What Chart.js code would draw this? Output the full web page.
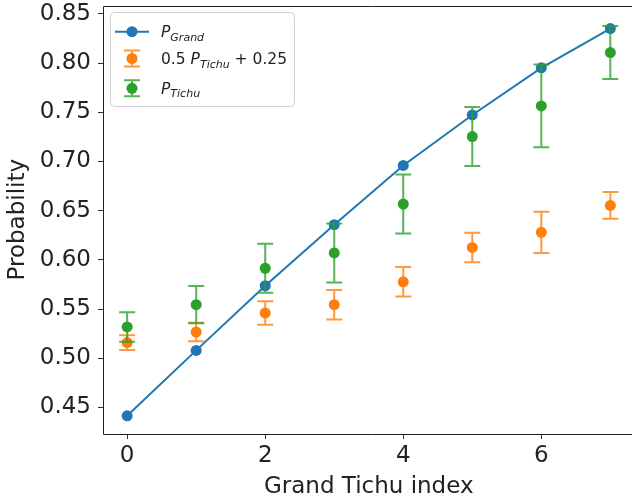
<!DOCTYPE html>
<html>
<head>
<meta charset="utf-8">
<script src="https://cdn.jsdelivr.net/npm/chart.js@4"></script>
<style>
  html, body { margin: 0; padding: 0; background: #fff; overflow: hidden; }
  #wrap { width: 632px; height: 503px; overflow: hidden; }
</style>
</head>
<body>
<div id="wrap"><canvas id="chart" width="640" height="503"></canvas></div>
<script>
const FONT = '"DejaVu Sans", sans-serif';

const gtIndex = [0, 1, 2, 3, 4, 5, 6, 7];
const pGrand = [0.4415, 0.508, 0.5737, 0.6358, 0.696, 0.7473, 0.7952, 0.8351];
const pTichuHalf = [0.516, 0.5267, 0.546, 0.5545, 0.5777, 0.6127, 0.628, 0.6554];
const pTichuHalfErr = [0.0075, 0.0095, 0.012, 0.015, 0.015, 0.015, 0.021, 0.0135];
const pTichu = [0.5318, 0.5545, 0.5915, 0.6071, 0.6567, 0.7254, 0.7565, 0.8108];
const pTichuErr = [0.015, 0.019, 0.025, 0.030, 0.030, 0.030, 0.042, 0.027];
const xTicks = [0, 2, 4, 6];
const yTicks = [0.45, 0.50, 0.55, 0.60, 0.65, 0.70, 0.75, 0.80, 0.85];

const BLUE = '#1f77b4', ORANGE = '#ff7f0e', GREEN = '#2ca02c';

const pts = ys => gtIndex.map((x, i) => ({x: x, y: ys[i]}));

// matplotlib style error bars, drawn just under each dataset's markers
const errorBars = {
  id: 'errorBars',
  beforeDatasetDraw(chart, args) {
    const ds = chart.data.datasets[args.index];
    if (!ds.errors) return;
    const {ctx, scales: {x, y}} = chart;
    ctx.save();
    ctx.strokeStyle = ds.errColor;
    ctx.lineWidth = 2;
    ds.data.forEach((p, i) => {
      const px = x.getPixelForValue(p.x);
      const top = y.getPixelForValue(p.y + ds.errors[i]);
      const bot = y.getPixelForValue(p.y - ds.errors[i]);
      ctx.beginPath();
      ctx.moveTo(px, top); ctx.lineTo(px, bot);
      ctx.moveTo(px - 8, top); ctx.lineTo(px + 8, top);
      ctx.moveTo(px - 8, bot); ctx.lineTo(px + 8, bot);
      ctx.stroke();
    });
    ctx.restore();
  }
};

// spines (right one falls outside the view, like the cropped original) + legend
const frame = {
  id: 'frame',
  afterDraw(chart) {
    const {ctx, chartArea: a} = chart;
    ctx.save();
    ctx.strokeStyle = '#222';
    ctx.lineWidth = 1;
    const L = Math.round(a.left) + 0.5, T = Math.round(a.top) + 0.5, B = Math.round(a.bottom) + 0.5;
    ctx.beginPath();
    ctx.moveTo(a.right + 20, T); ctx.lineTo(L, T); ctx.lineTo(L, B); ctx.lineTo(a.right + 20, B);
    ctx.stroke();

    // legend box
    const bx = 110.5, by = 12.5, bw = 184, bh = 94;
    ctx.beginPath();
    ctx.roundRect(bx, by, bw, bh, 4);
    ctx.fillStyle = 'rgba(255,255,255,0.8)';
    ctx.fill();
    ctx.strokeStyle = '#d0d0d0';
    ctx.stroke();

    const mx = 132;
    const rows = [31.7, 58.5, 88.3];
    // blue line entry
    ctx.strokeStyle = BLUE; ctx.lineWidth = 2;
    ctx.beginPath(); ctx.moveTo(115, rows[0]); ctx.lineTo(149, rows[0]); ctx.stroke();
    ctx.fillStyle = BLUE;
    ctx.beginPath(); ctx.arc(mx, rows[0], 5.5, 0, Math.PI * 2); ctx.fill();
    // error bar entries
    [[ORANGE, 'rgba(255,127,14,0.8)', rows[1]], [GREEN, 'rgba(44,160,44,0.8)', rows[2]]].forEach(([c, ec, ry]) => {
      ctx.strokeStyle = ec;
      ctx.beginPath();
      ctx.moveTo(mx, ry - 8); ctx.lineTo(mx, ry + 8);
      ctx.moveTo(mx - 8, ry - 8); ctx.lineTo(mx + 8, ry - 8);
      ctx.moveTo(mx - 8, ry + 8); ctx.lineTo(mx + 8, ry + 8);
      ctx.stroke();
      ctx.fillStyle = c;
      ctx.beginPath(); ctx.arc(mx, ry, 5.5, 0, Math.PI * 2); ctx.fill();
    });

    // legend texts
    ctx.fillStyle = '#222';
    ctx.textBaseline = 'alphabetic';
    const run = (parts, x, base) => {
      parts.forEach(([t, style, sub]) => {
        const size = sub ? 11 : 15.5;
        ctx.font = style + ' ' + size + 'px ' + FONT;
        ctx.fillText(t, x, base + (sub ? 3.5 : 0));
        x += ctx.measureText(t).width;
      });
    };
    run([['P', 'italic', false], ['Grand', 'italic', true]], 161, rows[0] + 5.5);
    run([['0.5 ', 'normal', false], ['P', 'italic', false], ['Tichu', 'italic', true], [' + 0.25', 'normal', false]], 161, rows[1] + 5.5);
    run([['P', 'italic', false], ['Tichu', 'italic', true]], 161, rows[2] + 5.5);
    ctx.restore();
  }
};

new Chart(document.getElementById('chart'), {
  type: 'scatter',
  data: {
    datasets: [
      {
        label: 'P_Grand',
        data: pts(pGrand),
        showLine: true,
        borderColor: BLUE,
        backgroundColor: BLUE,
        borderWidth: 2,
        pointRadius: 5.5,
        pointBorderWidth: 0,
        order: 3
      },
      {
        label: '0.5 P_Tichu + 0.25',
        data: pts(pTichuHalf),
        errors: pTichuHalfErr,
        errColor: 'rgba(255,127,14,0.8)',
        backgroundColor: ORANGE,
        borderColor: ORANGE,
        pointRadius: 5.5,
        pointBorderWidth: 0,
        order: 2
      },
      {
        label: 'P_Tichu',
        data: pts(pTichu),
        errors: pTichuErr,
        errColor: 'rgba(44,160,44,0.8)',
        backgroundColor: GREEN,
        borderColor: GREEN,
        pointRadius: 5.5,
        pointBorderWidth: 0,
        order: 1
      }
    ]
  },
  options: {
    responsive: false,
    animation: false,
    devicePixelRatio: 1,
    layout: { padding: { top: 3, right: 5, left: 0, bottom: 0 } },
    plugins: { legend: { display: false }, tooltip: { enabled: false } },
    scales: {
      x: {
        type: 'linear',
        min: -0.35,
        max: 7.35,
        afterBuildTicks: s => { s.ticks = xTicks.map(v => ({value: v})); },
        afterFit: s => { s.height = 69; s.paddingLeft = 0; s.paddingRight = 0; s.paddingTop = 0; s.paddingBottom = 0; },
        grid: { drawOnChartArea: false, drawTicks: true, tickLength: 5, color: '#333', tickWidth: 1 },
        border: { display: false },
        ticks: { color: '#222', font: { family: FONT, size: 23 }, padding: 3, maxRotation: 0, callback: v => String(v) },
        title: { display: true, text: 'Grand Tichu index', color: '#222', font: { family: FONT, size: 23 }, padding: { top: 0, bottom: 2 } }
      },
      y: {
        min: 0.423,
        max: 0.8586,
        afterBuildTicks: s => { s.ticks = yTicks.map(v => ({value: v})); },
        afterFit: s => { s.width = 103; s.paddingLeft = 0; s.paddingRight = 0; s.paddingTop = 0; s.paddingBottom = 0; },
        grid: { drawOnChartArea: false, drawTicks: true, tickLength: 5, color: '#333', tickWidth: 1 },
        border: { display: false },
        ticks: { color: '#222', font: { family: FONT, size: 23 }, padding: 7, callback: v => v.toFixed(2) },
        title: { display: true, text: 'Probability', color: '#222', font: { family: FONT, size: 23 }, padding: { top: 4, bottom: 0 } }
      }
    }
  },
  plugins: [errorBars, frame]
});
</script>
</body>
</html>
